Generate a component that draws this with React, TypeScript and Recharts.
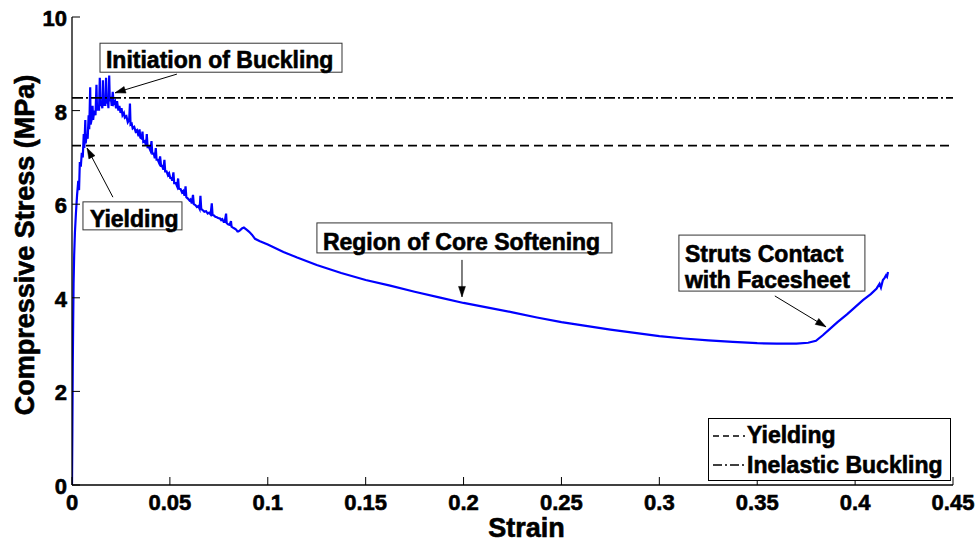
import React from 'react';
import { LineChart, Line, XAxis, YAxis, ReferenceLine, ReferenceDot, Legend, Label } from 'recharts';

const FONT = '"Liberation Sans", Arial, Helvetica, sans-serif';

// strain [-] vs compressive stress [MPa]
const strainValues = [
  0, 0.0002, 0.0004, 0.0006, 0.0008, 0.0011, 0.0015, 0.002, 0.0026, 0.0032, 0.0036, 0.004, 0.0045, 0.005,
  0.0055, 0.006, 0.0063, 0.0068, 0.007, 0.0075, 0.008, 0.0085, 0.0088, 0.0093, 0.0095, 0.01, 0.0105, 0.0108,
  0.0113, 0.012, 0.0125, 0.0128, 0.0133, 0.0138, 0.0142, 0.0145, 0.015, 0.0155, 0.0158, 0.0161, 0.0165, 0.017,
  0.0174, 0.0177, 0.0182, 0.0186, 0.019, 0.0193, 0.0198, 0.0203, 0.0208, 0.0213, 0.022, 0.0225, 0.023, 0.0237,
  0.0242, 0.0248, 0.0253, 0.0258, 0.0265, 0.027, 0.0278, 0.0285, 0.0292, 0.0296, 0.0299, 0.0305, 0.031, 0.0318,
  0.0325, 0.0332, 0.034, 0.0345, 0.0349, 0.0356, 0.036, 0.0364, 0.0372, 0.0378, 0.0382, 0.0386, 0.0393, 0.04,
  0.0406, 0.041, 0.0418, 0.0423, 0.0428, 0.0432, 0.0438, 0.0445, 0.045, 0.0455, 0.046, 0.0467, 0.0472, 0.0476,
  0.0483, 0.049, 0.0496, 0.0502, 0.0508, 0.0512, 0.0518, 0.0522, 0.053, 0.0537, 0.0542, 0.0546, 0.0555, 0.0562,
  0.0568, 0.0575, 0.058, 0.0584, 0.0592, 0.06, 0.0605, 0.0612, 0.0618, 0.0622, 0.063, 0.0638, 0.0645, 0.0652,
  0.0656, 0.066, 0.0668, 0.0676, 0.0685, 0.0693, 0.07, 0.0708, 0.0714, 0.0718, 0.0725, 0.0732, 0.074, 0.0748,
  0.0755, 0.0762, 0.0768, 0.0775, 0.078, 0.0787, 0.079, 0.0797, 0.0805, 0.0812, 0.0815, 0.0822, 0.083, 0.0838,
  0.0845, 0.085, 0.0858, 0.0868, 0.0878, 0.089, 0.0905, 0.0919, 0.0935, 0.096, 0.1, 0.108, 0.115, 0.125,
  0.1375, 0.15, 0.1625, 0.175, 0.1875, 0.2, 0.2125, 0.225, 0.2375, 0.25, 0.2625, 0.275, 0.2875, 0.3, 0.3125,
  0.325, 0.3375, 0.35, 0.36, 0.37, 0.376, 0.38, 0.3835, 0.387, 0.391, 0.396, 0.4, 0.404, 0.408, 0.411, 0.4125,
  0.4132, 0.4142, 0.415, 0.4158, 0.4163, 0.4168,
];
const stressValues = [
  0, 1.2, 2.6, 3.5, 4.3, 4.9, 5.4, 5.8, 6.2, 6.5, 6.3, 6.9, 6.8, 7.1,
  7.0, 7.5, 7.2, 7.8, 7.3, 7.5, 7.4, 7.9, 7.6, 8.5, 7.7, 7.8, 8.1, 7.8,
  8.0, 7.9, 8.55, 8.0, 8.1, 8.0, 8.7, 8.1, 8.2, 8.05, 8.65, 8.1, 8.25, 8.1,
  8.7, 8.15, 8.3, 8.05, 8.75, 8.2, 8.3, 8.1, 8.4, 8.15, 8.2, 8.05, 8.2, 8.0,
  8.1, 7.95, 8.05, 7.9, 7.95, 7.85, 7.88, 7.75, 7.8, 8.15, 7.7, 7.72, 7.62, 7.65,
  7.55, 7.58, 7.45, 7.6, 7.42, 7.4, 7.55, 7.33, 7.35, 7.25, 7.5, 7.22, 7.22, 7.15,
  7.35, 7.08, 7.08, 6.98, 7.2, 6.95, 6.95, 6.88, 7.02, 6.82, 6.82, 6.74, 6.95, 6.7,
  6.7, 6.62, 6.66, 6.56, 6.56, 6.5, 6.68, 6.45, 6.45, 6.38, 6.55, 6.33, 6.32, 6.25,
  6.28, 6.18, 6.38, 6.15, 6.12, 6.08, 6.1, 6.02, 6.2, 6.0, 5.98, 5.94, 5.96, 5.9,
  6.18, 5.9, 5.87, 5.84, 5.85, 5.8, 5.82, 5.78, 6.02, 5.77, 5.76, 5.73, 5.72, 5.7,
  5.7, 5.66, 5.68, 5.62, 5.62, 5.8, 5.6, 5.57, 5.56, 5.64, 5.52, 5.5, 5.48, 5.46,
  5.42, 5.42, 5.44, 5.48, 5.5, 5.46, 5.41, 5.35, 5.26, 5.21, 5.14, 4.98, 4.86, 4.7,
  4.53, 4.38, 4.26, 4.13, 4.01, 3.89, 3.79, 3.69, 3.58, 3.48, 3.4, 3.32, 3.25, 3.18, 3.13,
  3.09, 3.06, 3.03, 3.02, 3.02, 3.04, 3.08, 3.2, 3.33, 3.48, 3.65, 3.8, 3.95, 4.08, 4.2, 4.3,
  4.22, 4.38, 4.42, 4.48, 4.45, 4.55,
];

const xTicks = [0, 0.05, 0.1, 0.15, 0.2, 0.25, 0.3, 0.35, 0.4, 0.45];
const yTicks = [0, 2, 4, 6, 8, 10];

const yieldStress = 7.25;
const bucklingStress = 8.27;
const legendNames = ['Yielding', 'Inelastic Buckling'];

const noteBuckling = ['Initiation of Buckling'];
const noteYield = ['Yielding'];
const noteSoftening = ['Region of Core Softening'];
const noteContact = ['Struts Contact', 'with Facesheet'];

const data = strainValues.map((s, i) => ({ strain: s, stress: stressValues[i] }));

// heavy MATLAB-style bold
const textStyle = { fontFamily: FONT, fontWeight: 700, fill: '#000', stroke: '#000', strokeWidth: 0.6 };

function BottomTick(props: any) {
  const { x, y, payload } = props;
  return (
    <g>
      <line x1={x} y1={y} x2={x} y2={y - 8} stroke="#000" />
      <text x={x} y={y + 25} textAnchor="middle" fontSize={22} {...textStyle}>
        {String(payload.value)}
      </text>
    </g>
  );
}

function TopTick(props: any) {
  const { x, y } = props;
  return <line x1={x} y1={y} x2={x} y2={y + 8} stroke="#000" />;
}

function LeftTick(props: any) {
  const { x, y, payload } = props;
  return (
    <g>
      <line x1={x} y1={y} x2={x + 8} y2={y} stroke="#000" />
      <text x={x - 5} y={y + 9} textAnchor="end" fontSize={22} {...textStyle}>
        {String(payload.value)}
      </text>
    </g>
  );
}

function RightTick(props: any) {
  const { x, y } = props;
  return <line x1={x} y1={y} x2={x - 8} y2={y} stroke="#000" />;
}

function Arrow(props: any) {
  const { x1, y1, x2, y2 } = props;
  const a = Math.atan2(y2 - y1, x2 - x1);
  const len = 11;
  const sp = 0.32;
  const ax = x2 - len * Math.cos(a - sp);
  const ay = y2 - len * Math.sin(a - sp);
  const bx = x2 - len * Math.cos(a + sp);
  const by = y2 - len * Math.sin(a + sp);
  return (
    <g>
      <line x1={x1} y1={y1} x2={x2} y2={y2} stroke="#000" strokeWidth={1} />
      <polygon points={`${ax},${ay} ${x2},${y2} ${bx},${by}`} fill="#000" stroke="#000" strokeWidth={0.5} />
    </g>
  );
}

function NoteBox(props: any) {
  const { cx, cy, w, h, lines, padX, base, lead } = props;
  return (
    <g>
      <rect x={cx} y={cy} width={w} height={h} fill="#fff" stroke="#333" strokeWidth={1} />
      {lines.map((t: string, i: number) => (
        <text key={t} x={cx + padX} y={cy + base + i * lead} fontSize={23} {...textStyle}>
          {t}
        </text>
      ))}
    </g>
  );
}

function LegendBox() {
  return (
    <svg width={243} height={63} style={{ display: 'block' }}>
      <rect x={0.5} y={0.5} width={242} height={62} fill="#fff" stroke="#000" />
      <line x1={5} y1={18} x2={37} y2={18} stroke="#000" strokeWidth={1.5} strokeDasharray="6 4" />
      <text x={39} y={25} fontSize={23} {...textStyle}>{legendNames[0]}</text>
      <line x1={5} y1={47} x2={37} y2={47} stroke="#000" strokeWidth={1.5} strokeDasharray="9 3 2 3" />
      <text x={39} y={55} fontSize={23} {...textStyle}>{legendNames[1]}</text>
    </svg>
  );
}

export default function App() {
  return (
    <div style={{ position: 'absolute', left: 0, top: 0, background: '#fff' }}>
      <LineChart width={980} height={542} data={data} margin={{ top: 17, right: 27, bottom: 7, left: 12 }}>
        <XAxis
          dataKey="strain"
          type="number"
          domain={[0, 0.45]}
          ticks={xTicks}
          allowDataOverflow
          height={50}
          tickSize={0}
          tickMargin={0}
          tickLine={false}
          axisLine={{ stroke: '#000', strokeWidth: 1.3 }}
          tick={<BottomTick />}
          interval={0}
        >
          <Label
            content={(p: any) => (
              <text x={p.viewBox.x + p.viewBox.width / 2 + 14} y={p.viewBox.y + 52} textAnchor="middle" fontSize={27} {...textStyle}>
                Strain
              </text>
            )}
          />
        </XAxis>
        <XAxis
          xAxisId="top"
          orientation="top"
          type="number"
          domain={[0, 0.45]}
          ticks={xTicks}
          allowDataOverflow
          height={0}
          tickSize={0}
          tickMargin={0}
          tickLine={false}
          axisLine={{ stroke: '#000', strokeWidth: 1.3 }}
          tick={<TopTick />}
          interval={0}
        />
        <YAxis
          type="number"
          domain={[0, 10]}
          ticks={yTicks}
          allowDataOverflow
          width={60}
          tickSize={0}
          tickMargin={0}
          tickLine={false}
          axisLine={{ stroke: '#000', strokeWidth: 1.3 }}
          tick={<LeftTick />}
          interval={0}
        >
          <Label
            content={(p: any) => {
              const cy = p.viewBox.y + p.viewBox.height / 2 - 6;
              return (
                <text x={25} y={cy} transform={`rotate(-90, 25, ${cy})`} textAnchor="middle" dominantBaseline="central" fontSize={27} {...textStyle}>
                  Compressive Stress (MPa)
                </text>
              );
            }}
          />
        </YAxis>
        <YAxis
          yAxisId="right"
          orientation="right"
          type="number"
          domain={[0, 10]}
          ticks={yTicks}
          allowDataOverflow
          width={0}
          tickSize={0}
          tickMargin={0}
          tickLine={false}
          axisLine={{ stroke: '#000', strokeWidth: 1.3 }}
          tick={<RightTick />}
          interval={0}
        />
        <Line
          type="linear"
          dataKey="stress"
          stroke="#0000ff"
          strokeWidth={2.2}
          dot={false}
          isAnimationActive={false}
        />
        <ReferenceLine y={yieldStress} stroke="#000" strokeWidth={1.8} strokeDasharray="9 5" />
        <ReferenceLine y={bucklingStress} stroke="#000" strokeWidth={1.8} strokeDasharray="11 3 2 3" />

        <ReferenceLine segment={[{ x: 0.0536, y: 8.78 }, { x: 0.022, y: 8.38 }]} shape={<Arrow />} />
        <ReferenceLine segment={[{ x: 0.0209, y: 6.15 }, { x: 0.0077, y: 7.2 }]} shape={<Arrow />} />
        <ReferenceLine segment={[{ x: 0.1992, y: 4.81 }, { x: 0.1992, y: 4.02 }]} shape={<Arrow />} />
        <ReferenceLine segment={[{ x: 0.359, y: 4.04 }, { x: 0.3851, y: 3.38 }]} shape={<Arrow />} />

        <ReferenceDot x={0.0143} y={9.44} r={1} shape={(p: any) => <NoteBox {...p} w={242} h={29} lines={noteBuckling} padX={6} base={25} lead={26} />} />
        <ReferenceDot x={0.0056} y={6.05} r={1} shape={(p: any) => <NoteBox {...p} w={99} h={28} lines={noteYield} padX={7} base={25} lead={26} />} />
        <ReferenceDot x={0.1251} y={5.6} r={1} shape={(p: any) => <NoteBox {...p} w={295} h={30} lines={noteSoftening} padX={6} base={27} lead={26} />} />
        <ReferenceDot x={0.31} y={5.34} r={1} shape={(p: any) => <NoteBox {...p} w={186} h={56} lines={noteContact} padX={6} base={27} lead={26} />} />

        <Legend
          layout="vertical"
          align="center"
          verticalAlign="middle"
          wrapperStyle={{ left: 708, top: 418, width: 243, height: 63 }}
          content={() => <LegendBox />}
        />
      </LineChart>
    </div>
  );
}
